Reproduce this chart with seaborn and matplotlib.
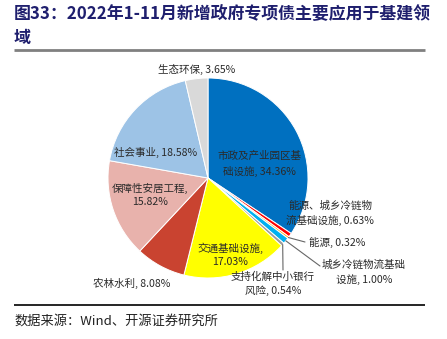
import numpy as np
import matplotlib
matplotlib.use("Agg")
import matplotlib.pyplot as plt
import seaborn as sns

# ---- data ----
categories = ["市政及产业园区基础设施", "能源、城乡冷链物流基础设施", "能源",
              "城乡冷链物流基础设施", "支持化解中小银行风险", "交通基础设施",
              "农林水利", "保障性安居工程", "社会事业", "生态环保"]
shares = [34.36, 0.63, 0.32, 1.00, 0.54, 17.03, 8.08, 15.82, 18.58, 3.65]
label_texts = ["市政及产业园区基\n础设施, 34.36%", "能源、城乡冷链物\n流基础设施, 0.63%",
               "能源, 0.32%", "城乡冷链物流基础\n设施, 1.00%", "支持化解中小银行\n风险, 0.54%",
               "交通基础设施,\n17.03%", "农林水利, 8.08%", "保障性安居工程,\n15.82%",
               "社会事业, 18.58%", "生态环保, 3.65%"]
title_text = "图33：2022年1-11月新增政府专项债主要应用于基建领\n域"
source_text = "数据来源：Wind、开源证券研究所"

# ---- styles / layout ----
colors = ["#0070C0", "#FF0000", "#FFA500", "#00B0F0", "#9E9E9E",
          "#FFFF00", "#C94330", "#E8B2AC", "#9DC3E6", "#D9D9D9"]
W, H = 447, 339
center = (208, H - 178)
radius = 100
# label anchor positions in pixels (x, y from top) and leader flag
label_pos = [(259, 164), (330, 213), (309, 242), (364, 272), (273, 284),
             (230, 255), (132, 283), (150, 195), (156, 152), (197, 69)]
label_ha = ["center", "center", "left", "center", "center",
            "center", "center", "center", "center", "center"]
leaders = {2: (305, 242), 3: (320, 266), 4: (283, 270)}

sns.set_theme(style="white")
plt.rcParams["font.family"] = ["Noto Sans CJK SC", "DejaVu Sans"]

fig = plt.figure(figsize=(W / 100, H / 100), dpi=100)
ax = fig.add_axes([0, 0, 1, 1])

wedges, _ = ax.pie(shares, colors=colors, startangle=90, counterclock=False,
                   center=center, radius=radius,
                   wedgeprops=dict(edgecolor="white", linewidth=0.7))
ax.set_xlim(0, W)
ax.set_ylim(0, H)
ax.set_aspect("equal")
ax.axis("off")

for i, w in enumerate(wedges):
    x, y = label_pos[i]
    ax.text(x, H - y, label_texts[i], ha=label_ha[i], va="center",
            fontsize=7.6, color="#2A2A2A", linespacing=1.45)
    if i in leaders:
        ang = np.deg2rad((w.theta1 + w.theta2) / 2)
        px = center[0] + radius * np.cos(ang)
        py = center[1] + radius * np.sin(ang)
        lx, ly = leaders[i]
        ax.plot([px, lx], [py, H - ly], color="#666666", lw=0.8)

# title
fig.text(14 / W, 1 - 26 / H, title_text, ha="left", va="center", fontsize=12.2,
         fontweight="bold", color="#1F1F6E", linespacing=1.5)
ax.plot([14, 425], [H - 50, H - 50], color="#808080", lw=2, solid_capstyle="butt")
ax.plot([14, 425], [H - 305, H - 305], color="#000000", lw=1.2, solid_capstyle="butt")
fig.text(14 / W, 1 - 321 / H, source_text, ha="left", va="center", fontsize=9.5,
         color="#222222")

fig.savefig("out.png", dpi=100)
